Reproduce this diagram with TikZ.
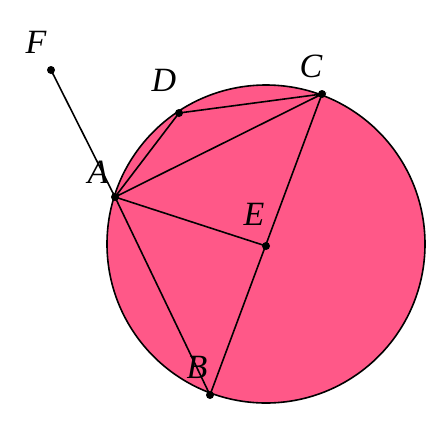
\documentclass[tikz,border=0pt]{standalone}
\usepackage{fontspec}
\setmainfont{Liberation Serif}
\definecolor{rosa}{RGB}{255,88,136}
\begin{document}
\begin{tikzpicture}[x=1pt,y=-1pt,line width=1.6pt,font=\fontsize{34}{38}\selectfont\itshape]
  \useasboundingbox (0,0) rectangle (436,426);
  \tikzset{dot/.style={circle,fill=black,inner sep=0pt,minimum size=8pt}}

  \coordinate (O) at (266,244);
  \coordinate (A) at (115,197);
  \coordinate (B) at (210,395);
  \coordinate (C) at (322,94);
  \coordinate (D) at (179,113);
  \coordinate (E) at (266,246);
  \coordinate (F) at (51,70);

  % 圆 O
  \draw[fill=rosa] (O) circle (159);

  % 弦与线段
  \draw (F) -- (A);
  \draw (A) -- (D) -- (C) -- cycle;
  \draw (A) -- (B) -- (C);
  \draw (A) -- (E);

  % 点
  \foreach \p in {A,B,C,D,E,F}
    \node[dot] (d\p) at (\p) {};

  % 顶点标注
  \node (lA) at (98,172) {A};
  \node (lB) at (197,367) {B};
  \node (lC) at (311,66) {C};
  \node (lD) at (164,80) {D};
  \node (lE) at (254,214) {E};
  \node (lF) at (36,42) {F};
\end{tikzpicture}
\end{document}
